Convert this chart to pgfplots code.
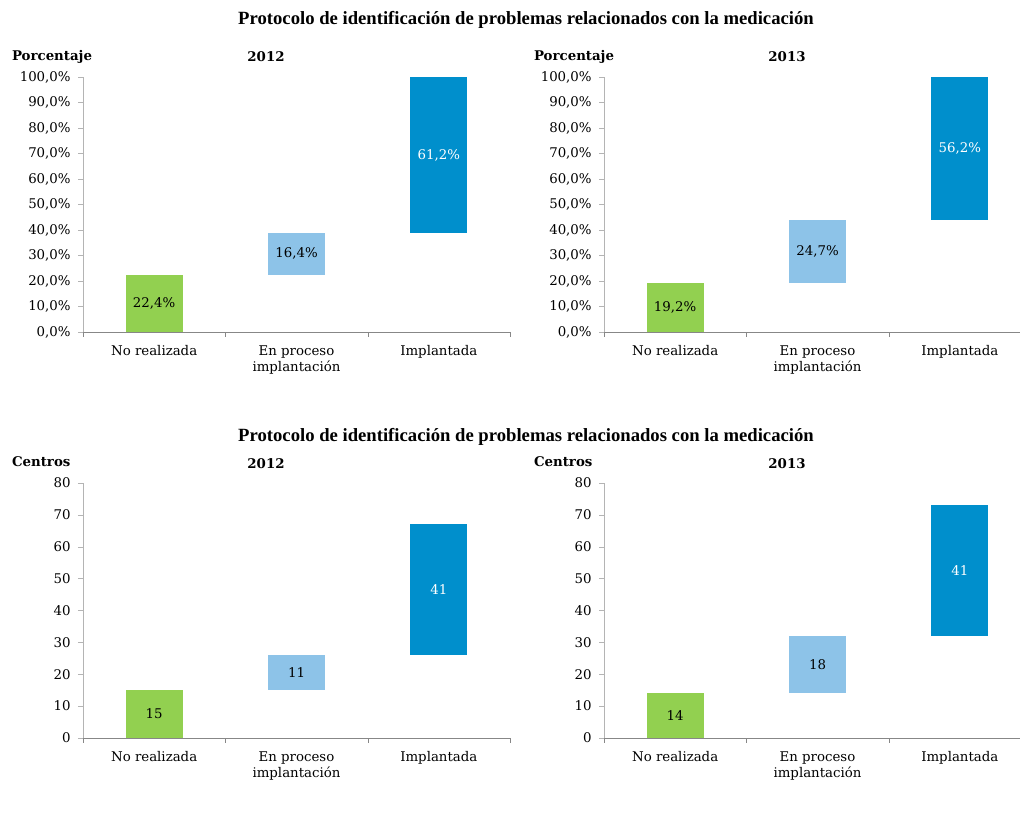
\documentclass[border=0pt]{standalone}
\usepackage{fontspec}
\setmainfont{DejaVu Serif}
\newfontfamily\titlefont{Liberation Serif}
\usepackage{pgfplots}
\pgfplotsset{compat=1.18}

\definecolor{cgreen}{HTML}{92D050}
\definecolor{clight}{HTML}{8DC3E8}
\definecolor{cdark}{HTML}{008FCC}
\definecolor{xgray}{HTML}{878787}
\definecolor{ygray}{HTML}{B4B4B4}

\pgfplotsset{
  wf/.style={
    scale only axis, width=320.25pt, height=191.25pt,
    xmin=-0.5, xmax=2.5,
    axis x line*=bottom, axis y line*=left,
    x axis line style={draw=xgray, -},
    y axis line style={draw=ygray, -},
    tick align=outside, major tick length=3.75pt,
    xtick={-0.5,0.5,1.5,2.5}, xticklabels={},
    x tick style={draw=xgray},
    y tick style={draw=ygray},
    extra x ticks={0,1,2},
    extra x tick labels={No realizada,{En proceso\\implantación},Implantada},
    extra x tick style={major tick length=0pt, tick label style={align=center, yshift=-6.5pt}},
    yticklabel style={xshift=-2pt},
    /pgf/number format/assume math mode=true,
  },
  wfbars/.style={wf, ybar stacked, bar width=42.75pt},
  wflabels/.style={wf, hide axis},
  pct/.style={ymin=0, ymax=100, ytick={0,10,...,100},
    yticklabel={\pgfmathprintnumber[fixed,fixed zerofill,precision=1,use comma]{\tick}\%}},
  cnt/.style={ymin=0, ymax=80, ytick={0,10,...,80},
    yticklabel={\pgfmathprintnumber[fixed,precision=0]{\tick}}},
  lbl/.style={draw=none, mark=none, nodes near coords, point meta=explicit symbolic,
    nodes near coords style={anchor=center}},
}

\begin{document}
\begin{tikzpicture}
\path[use as bounding box, clip] (0,0) rectangle (765pt,612pt);

% titles
\node[font=\titlefont\fontsize{14}{16}\selectfont\bfseries] at (394.5pt,597pt)
  {Protocolo de identificación de problemas relacionados con la medicación};
\node[font=\titlefont\fontsize{14}{16}\selectfont\bfseries] at (394.5pt,284.25pt)
  {Protocolo de identificación de problemas relacionados con la medicación};
\node[font=\bfseries, anchor=west] at (5.5pt,569.25pt) {Porcentaje};
\node[font=\bfseries, anchor=west] at (397pt,569.25pt) {Porcentaje};
\node[font=\bfseries] at (199.5pt,569.25pt) {2012};
\node[font=\bfseries] at (590.25pt,569.25pt) {2013};
\node[font=\bfseries, anchor=west] at (5.5pt,266pt) {Centros};
\node[font=\bfseries, anchor=west] at (397pt,266pt) {Centros};
\node[font=\bfseries] at (199.5pt,264pt) {2012};
\node[font=\bfseries] at (590.25pt,264pt) {2013};

% 2012 porcentaje
\begin{axis}[wfbars, pct, at={(62.25pt,363pt)}, anchor=south west]
  \addplot[draw=none, fill=none] coordinates {(0,0) (1,22.4) (2,38.8)};
  \addplot[draw=none, fill=cgreen] coordinates {(0,22.4) (1,0) (2,0)};
  \addplot[draw=none, fill=clight] coordinates {(0,0) (1,16.4) (2,0)};
  \addplot[draw=none, fill=cdark] coordinates {(0,0) (1,0) (2,61.2)};
\end{axis}
\begin{axis}[wflabels, pct, at={(62.25pt,363pt)}, anchor=south west]
  \addplot[lbl] coordinates {(0,11.2)[22,4\%] (1,30.6)[16,4\%]};
  \addplot[lbl, white] coordinates {(2,69.4)[61,2\%]};
\end{axis}

% 2013 porcentaje
\begin{axis}[wfbars, pct, at={(453pt,363pt)}, anchor=south west]
  \addplot[draw=none, fill=none] coordinates {(0,0) (1,19.2) (2,43.8)};
  \addplot[draw=none, fill=cgreen] coordinates {(0,19.2) (1,0) (2,0)};
  \addplot[draw=none, fill=clight] coordinates {(0,0) (1,24.7) (2,0)};
  \addplot[draw=none, fill=cdark] coordinates {(0,0) (1,0) (2,56.2)};
\end{axis}
\begin{axis}[wflabels, pct, at={(453pt,363pt)}, anchor=south west]
  \addplot[lbl] coordinates {(0,9.6)[19,2\%] (1,31.55)[24,7\%]};
  \addplot[lbl, white] coordinates {(2,71.9)[56,2\%]};
\end{axis}

% 2012 centros
\begin{axis}[wfbars, cnt, at={(62.25pt,58.5pt)}, anchor=south west]
  \addplot[draw=none, fill=none] coordinates {(0,0) (1,15) (2,26)};
  \addplot[draw=none, fill=cgreen] coordinates {(0,15) (1,0) (2,0)};
  \addplot[draw=none, fill=clight] coordinates {(0,0) (1,11) (2,0)};
  \addplot[draw=none, fill=cdark] coordinates {(0,0) (1,0) (2,41)};
\end{axis}
\begin{axis}[wflabels, cnt, at={(62.25pt,58.5pt)}, anchor=south west]
  \addplot[lbl] coordinates {(0,7.5)[15] (1,20.5)[11]};
  \addplot[lbl, white] coordinates {(2,46.5)[41]};
\end{axis}

% 2013 centros
\begin{axis}[wfbars, cnt, at={(453pt,58.5pt)}, anchor=south west]
  \addplot[draw=none, fill=none] coordinates {(0,0) (1,14) (2,32)};
  \addplot[draw=none, fill=cgreen] coordinates {(0,14) (1,0) (2,0)};
  \addplot[draw=none, fill=clight] coordinates {(0,0) (1,18) (2,0)};
  \addplot[draw=none, fill=cdark] coordinates {(0,0) (1,0) (2,41)};
\end{axis}
\begin{axis}[wflabels, cnt, at={(453pt,58.5pt)}, anchor=south west]
  \addplot[lbl] coordinates {(0,7)[14] (1,23)[18]};
  \addplot[lbl, white] coordinates {(2,52.5)[41]};
\end{axis}
\end{tikzpicture}
\end{document}
